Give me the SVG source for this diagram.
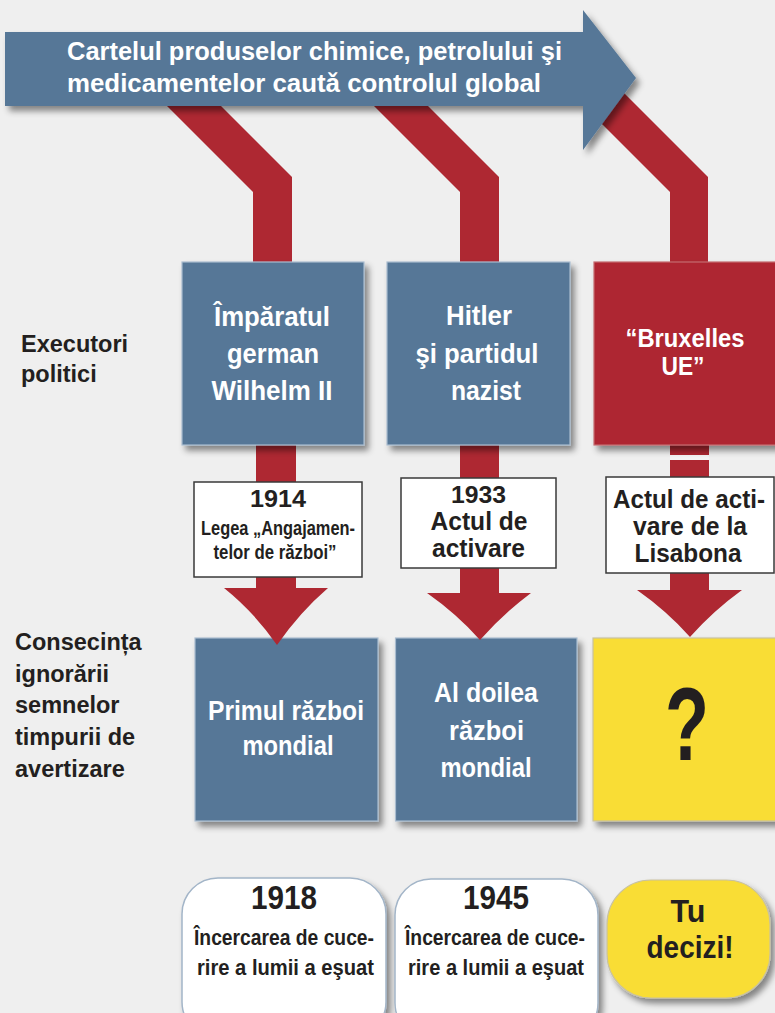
<svg xmlns="http://www.w3.org/2000/svg" width="775" height="1013" viewBox="0 0 775 1013">
<defs>
<filter id="sh" x="-15%" y="-15%" width="140%" height="140%">
<feDropShadow dx="4" dy="5" stdDeviation="3" flood-color="#000" flood-opacity="0.45"/>
</filter>
<style>
text{font-family:"Liberation Sans",Arial,sans-serif;font-weight:bold;}
.w{fill:#ffffff;text-anchor:middle;}
.d{fill:#231f20;text-anchor:middle;}
.l{fill:#231f20;font-size:23.5px;}
.blue{fill:#567797;stroke:#a9bccf;stroke-width:1.2;}
.red{fill:#ae2832;}
.lab{fill:#ffffff;stroke:#3a3a3a;stroke-width:1.5;}
.res{fill:#ffffff;stroke:#a3b5c8;stroke-width:1.5;}
.yel{fill:#f9dd34;stroke:#c9c2a0;stroke-width:1.2;}
</style>
</defs>
<rect width="775" height="1013" fill="#efefef"/>

<g id="connectors">
<polygon class="red" points="156,95 253,192 253,265 292,265 292,177 210,95"/>
<polygon class="red" points="363,95 460,192 460,265 499,265 499,177 417,95"/>
<polygon class="red" points="560,82 670,192 670,265 708,265 708,177 613,82"/>
<rect class="red" x="256" y="440" width="40" height="152"/>
<rect class="red" x="460" y="440" width="39" height="157"/>
<rect class="red" x="670" y="440" width="39" height="154"/>
<rect x="670" y="455" width="39" height="5" fill="#f4f4f4"/>
</g>

<g id="title" filter="url(#sh)">
<path d="M5,32 H583 V10 L636,78 L583,150 V106 H5 Z" fill="#567797"/>
</g>
<g id="title-text">
<text x="67" y="60" fill="#fff" font-size="25" textLength="495" lengthAdjust="spacingAndGlyphs">Cartelul produselor chimice, petrolului şi</text>
<text x="67" y="92" fill="#fff" font-size="25" textLength="474" lengthAdjust="spacingAndGlyphs">medicamentelor cautǎ controlul global</text>
</g>

<g id="label-executori">
<text class="l" x="21" y="352">Executori</text>
<text class="l" x="21" y="382">politici</text>
</g>
<g id="label-consecinta">
<text class="l" x="15" y="650">Consecința</text>
<text class="l" x="15" y="682">ignorării</text>
<text class="l" x="15" y="713">semnelor</text>
<text class="l" x="15" y="745">timpurii de</text>
<text class="l" x="15" y="777">avertizare</text>
</g>

<g id="node-wilhelm">
<rect class="blue" x="182" y="262" width="182" height="183" filter="url(#sh)"/>
<text class="w" x="272" y="326" font-size="27" textLength="116" lengthAdjust="spacingAndGlyphs">Împăratul</text>
<text class="w" x="273" y="363" font-size="27" textLength="92" lengthAdjust="spacingAndGlyphs">german</text>
<text class="w" x="272" y="400" font-size="27" textLength="121" lengthAdjust="spacingAndGlyphs">Wilhelm II</text>
</g>
<g id="node-hitler">
<rect class="blue" x="387" y="262" width="183" height="183" filter="url(#sh)"/>
<text class="w" x="479" y="325" font-size="27" textLength="66" lengthAdjust="spacingAndGlyphs">Hitler</text>
<text class="w" x="477" y="363" font-size="27" textLength="123" lengthAdjust="spacingAndGlyphs">şi partidul</text>
<text class="w" x="486" y="400" font-size="27" textLength="70" lengthAdjust="spacingAndGlyphs">nazist</text>
</g>
<g id="node-bruxelles">
<rect x="594" y="262" width="190" height="183" fill="#ae2832" stroke="#c46a70" stroke-width="1.2" filter="url(#sh)"/>
<text class="w" x="685" y="347" font-size="25" textLength="119" lengthAdjust="spacingAndGlyphs">“Bruxelles</text>
<text class="w" x="683" y="375" font-size="25" textLength="43" lengthAdjust="spacingAndGlyphs">UE”</text>
</g>

<g id="act-1914">
<rect class="lab" x="194" y="482" width="168" height="95"/>
<text class="d" x="278" y="507" font-size="23" textLength="56" lengthAdjust="spacingAndGlyphs">1914</text>
<text class="d" x="278" y="535" font-size="20.5" textLength="154" lengthAdjust="spacingAndGlyphs">Legea „Angajamen-</text>
<text class="d" x="275" y="559" font-size="20.5" textLength="123" lengthAdjust="spacingAndGlyphs">telor de război”</text>
</g>
<g id="act-1933">
<rect class="lab" x="401" y="478" width="155" height="90"/>
<text class="d" x="478.5" y="503" font-size="24" textLength="55" lengthAdjust="spacingAndGlyphs">1933</text>
<text class="d" x="479" y="530" font-size="25" textLength="97" lengthAdjust="spacingAndGlyphs">Actul de</text>
<text class="d" x="478.5" y="557" font-size="25" textLength="93" lengthAdjust="spacingAndGlyphs">activare</text>
</g>
<g id="act-lisabona">
<rect class="lab" x="606" y="477" width="168" height="96"/>
<text class="d" x="689" y="508" font-size="25" textLength="152" lengthAdjust="spacingAndGlyphs">Actul de acti-</text>
<text class="d" x="690" y="535" font-size="25" textLength="114" lengthAdjust="spacingAndGlyphs">vare de la</text>
<text class="d" x="688" y="562" font-size="25" textLength="107" lengthAdjust="spacingAndGlyphs">Lisabona</text>
</g>

<g id="node-ww1">
<rect class="blue" x="195" y="638" width="183" height="183" filter="url(#sh)"/>
<text class="w" x="286" y="720" font-size="27" textLength="156" lengthAdjust="spacingAndGlyphs">Primul război</text>
<text class="w" x="288" y="755" font-size="27" textLength="91" lengthAdjust="spacingAndGlyphs">mondial</text>
</g>
<g id="node-ww2">
<rect class="blue" x="395.5" y="638" width="181.5" height="183" filter="url(#sh)"/>
<text class="w" x="486" y="702" font-size="27" textLength="104" lengthAdjust="spacingAndGlyphs">Al doilea</text>
<text class="w" x="486.5" y="740" font-size="27" textLength="75" lengthAdjust="spacingAndGlyphs">război</text>
<text class="w" x="486" y="777" font-size="27" textLength="91" lengthAdjust="spacingAndGlyphs">mondial</text>
</g>
<g id="node-question">
<rect class="yel" x="593" y="638" width="190" height="183" filter="url(#sh)"/>
<text class="d" x="687" y="760" font-size="104" textLength="44" lengthAdjust="spacingAndGlyphs">?</text>
</g>

<g id="connector-heads">
<path class="red" d="M224,588 L328,588 Q300,612 277,645 Q254,612 224,588 Z"/>
<path class="red" d="M427,593 L531,593 Q503,614 480,640 Q457,614 427,593 Z"/>
<path class="red" d="M637,590 L742,590 Q713,611 690,637 Q667,611 637,590 Z"/>
</g>

<g id="result-1918">
<rect class="res" x="182" y="878" width="204" height="160" rx="36" filter="url(#sh)"/>
<text class="d" x="284" y="909" font-size="33" textLength="66" lengthAdjust="spacingAndGlyphs">1918</text>
<text class="d" x="284" y="945" font-size="22" textLength="180" lengthAdjust="spacingAndGlyphs">Încercarea de cuce-</text>
<text class="d" x="285.5" y="975" font-size="22" textLength="177" lengthAdjust="spacingAndGlyphs">rire a lumii a eşuat</text>
</g>
<g id="result-1945">
<rect class="res" x="395" y="879" width="203" height="160" rx="36" filter="url(#sh)"/>
<text class="d" x="496" y="909" font-size="33" textLength="66" lengthAdjust="spacingAndGlyphs">1945</text>
<text class="d" x="495" y="945" font-size="22" textLength="180" lengthAdjust="spacingAndGlyphs">Încercarea de cuce-</text>
<text class="d" x="496" y="975" font-size="22" textLength="176" lengthAdjust="spacingAndGlyphs">rire a lumii a eşuat</text>
</g>
<g id="result-decizi">
<rect class="yel" x="607" y="880" width="163" height="118" rx="44" filter="url(#sh)"/>
<text class="d" x="688" y="922" font-size="31" textLength="35" lengthAdjust="spacingAndGlyphs">Tu</text>
<text class="d" x="690" y="958" font-size="31" textLength="87" lengthAdjust="spacingAndGlyphs">decizi!</text>
</g>
</svg>
